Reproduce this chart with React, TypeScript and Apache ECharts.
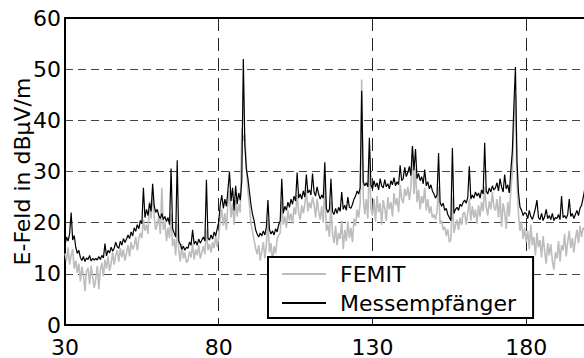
import React, { useEffect, useRef } from "react";
import * as echarts from "echarts";

// Frequency grid (MHz): values sampled every 0.5 MHz starting at 30 MHz
const FREQ_START = 30;
const FREQ_STEP = 0.5;
const X_TICK_LABELS = [30, 80, 130, 180];
const Y_TICKS = [0, 10, 20, 30, 40, 50, 60];
const SERIES_NAMES = ["FEMIT", "Messempfänger"];

// FEMIT (grey) field strength in dBµV/m
const femit = [
  // 30 – 39.5
  14.0, 12.5, 15.2, 11.8, 13.6, 14.8, 11.0, 12.6, 10.2, 12.0, 8.5, 11.4, 9.8, 6.6, 10.5, 11.2, 8.0, 11.6, 9.4, 7.2,
  // 40 – 49.5
  9.0, 11.5, 7.0, 10.8, 12.2, 9.5, 12.8, 11.0, 13.4, 10.6, 12.0, 14.2, 11.8, 13.6, 14.6, 12.4, 15.0, 13.2, 14.8, 12.6,
  // 50 – 59.5
  14.0, 15.6, 13.4, 16.2, 14.8, 15.4, 17.2, 14.6, 16.8, 18.0, 17.0, 20.6, 18.4, 19.6, 17.8, 24.2, 20.8, 26.0, 21.2, 18.6,
  // 60 – 69.5
  19.6, 21.4, 17.8, 26.8, 18.6, 20.2, 16.4, 19.0, 17.0, 21.8, 15.4, 16.8, 13.6, 19.8, 14.6, 12.4, 15.8, 13.0, 14.2, 12.2,
  // 70 – 79.5
  12.6, 14.4, 13.2, 15.8, 12.8, 14.8, 13.6, 15.6, 13.0, 14.2, 15.4, 13.8, 18.6, 14.6, 15.8, 14.2, 16.2, 15.0, 17.4, 15.2,
  // 80 – 89.5
  17.2, 20.8, 22.6, 19.4, 21.8, 18.6, 24.0, 26.2, 21.0, 23.8, 19.6, 24.4, 21.2, 23.6, 22.0, 38.4, 36.0, 37.2, 31.0, 26.0,
  // 90 – 99.5
  23.4, 19.8, 18.2, 16.6, 15.0, 13.8, 15.6, 12.6, 14.4, 16.2, 13.0, 15.8, 20.6, 14.2, 16.0, 12.2, 15.4, 14.0, 16.8, 17.6,
  // 100 – 109.5
  18.0, 24.2, 19.6, 21.2, 19.0, 22.4, 20.4, 21.8, 19.8, 23.0, 21.6, 25.4, 22.0, 20.6, 23.4, 21.8, 23.6, 26.4, 22.2, 24.0,
  // 110 – 119.5
  22.8, 25.0, 23.6, 21.0, 24.6, 22.2, 20.6, 23.2, 20.0, 28.4, 18.4, 19.6, 17.2, 24.2, 17.8, 16.0, 19.4, 15.6, 18.0, 16.8,
  // 120 – 129.5
  20.4, 14.8, 18.6, 16.4, 20.2, 17.0, 19.0, 16.2, 20.8, 19.4, 22.6, 21.0, 23.8, 48.0, 25.0, 21.6, 24.6, 20.8, 33.0, 22.8,
  // 130 – 139.5
  21.4, 24.6, 20.2, 25.2, 22.0, 23.8, 19.6, 24.4, 22.8, 20.4, 25.0, 22.6, 24.0, 21.2, 25.8, 23.4, 24.8, 22.0, 27.4, 24.6,
  // 140 – 149.5
  23.8, 26.6, 25.2, 27.0, 24.4, 26.8, 34.8, 25.6, 30.6, 24.0, 26.4, 22.6, 25.2, 23.8, 26.8, 22.4, 24.6, 21.8, 23.2, 21.0,
  // 150 – 159.5
  21.6, 20.6, 22.2, 27.0, 19.8, 20.4, 18.6, 19.2, 17.4, 18.8, 16.2, 16.6, 25.0, 18.0, 19.4, 20.6, 18.6, 21.0, 19.6, 21.8,
  // 160 – 169.5
  22.0, 19.6, 21.8, 24.6, 20.4, 23.2, 21.0, 22.6, 19.8, 23.4, 21.2, 24.0, 22.2, 27.0, 23.0, 21.4, 24.2, 22.6, 26.0, 23.0,
  // 170 – 179.5
  22.4, 24.6, 21.0, 25.2, 19.2, 23.8, 22.0, 18.8, 24.0, 21.2, 26.4, 30.0, 40.0, 45.0, 28.0, 21.6, 18.4, 20.2, 16.8, 19.0,
  // 180 – 189.5
  16.2, 18.4, 14.8, 19.6, 15.6, 17.2, 13.6, 18.0, 15.2, 16.6, 13.2, 17.4, 14.4, 12.0, 16.0, 13.6, 15.8, 12.6, 10.8, 14.2,
  // 190 – 199
  13.0, 16.4, 12.4, 15.6, 14.6, 17.8, 13.4, 16.2, 18.4, 15.0, 17.0, 14.2, 16.8, 18.6, 16.0, 19.4, 17.2, 19.0, 18.6,
];

// Messempfänger (black) field strength in dBµV/m
const messempfaenger = [
  // 30 – 39.5
  15.5, 17.2, 16.4, 17.8, 22.0, 16.6, 17.5, 15.2, 14.0, 14.6, 13.2, 12.6, 13.4, 12.4, 13.1, 12.8, 13.6, 12.5, 13.0, 12.7,
  // 40 – 49.5
  13.0, 12.7, 13.4, 12.8, 13.6, 13.1, 15.9, 13.5, 14.6, 14.1, 15.2, 14.4, 15.0, 16.2, 15.3, 15.0, 16.4, 15.6, 16.9, 16.1,
  // 50 – 59.5
  16.8, 17.6, 16.9, 18.2, 17.4, 19.0, 18.3, 19.6, 18.8, 20.4, 19.8, 26.8, 21.0, 22.6, 21.4, 23.8, 22.2, 27.6, 23.4, 22.0,
  // 60 – 69.5
  22.6, 21.4, 20.8, 21.8, 20.6, 21.2, 20.2, 21.0, 19.6, 30.6, 18.8, 18.0, 17.2, 32.2, 16.4, 15.8, 14.8, 15.4, 14.6, 15.2,
  // 70 – 79.5
  15.0, 16.2, 15.6, 18.6, 15.8, 16.4, 15.6, 16.8, 16.0, 16.6, 17.2, 16.4, 28.4, 17.0, 16.6, 17.6, 16.8, 18.2, 17.4, 18.8,
  // 80 – 89.5
  20.2, 23.6, 25.4, 22.8, 24.6, 23.2, 26.4, 30.0, 24.2, 26.8, 22.4, 27.2, 23.6, 25.8, 24.4, 28.2, 52.0, 35.0, 30.4, 28.6,
  // 90 – 99.5
  26.0, 23.4, 21.6, 20.4, 18.6, 17.8, 17.2, 18.0, 17.4, 18.4, 17.6, 19.2, 24.4, 18.6, 17.8, 18.4, 17.6, 18.8, 18.2, 19.6,
  // 100 – 109.5
  20.4, 28.6, 21.8, 23.2, 22.4, 24.0, 23.0, 24.6, 23.6, 25.2, 24.2, 29.8, 24.8, 25.6, 24.6, 26.2, 25.0, 29.4, 25.8, 26.4,
  // 110 – 119.5
  25.4, 29.6, 26.0, 25.2, 27.0, 25.6, 24.6, 25.4, 24.8, 31.8, 22.8, 22.0, 22.6, 28.6, 22.2, 21.6, 22.8, 21.8, 23.0, 22.2,
  // 120 – 129.5
  26.0, 22.6, 23.4, 22.4, 25.0, 23.0, 22.8, 23.6, 24.6, 25.2, 26.2, 25.6, 26.8, 45.8, 28.0, 27.2, 27.8, 27.0, 36.6, 27.4,
  // 130 – 139.5
  26.6, 28.2, 27.0, 27.8, 26.4, 28.6, 27.2, 26.8, 28.4, 27.0, 27.6, 26.6, 28.2, 27.4, 28.8, 27.2, 28.0, 27.4, 31.2, 28.2,
  // 140 – 149.5
  28.6, 30.8, 29.0, 29.8, 31.0, 29.2, 35.0, 30.2, 34.4, 28.6, 29.6, 28.2, 29.0, 27.6, 30.4, 27.2, 28.0, 26.6, 27.4, 26.2,
  // 150 – 159.5
  25.6, 24.8, 25.4, 33.6, 24.0, 23.2, 23.8, 22.4, 22.8, 21.6, 21.0, 20.4, 34.6, 21.8, 22.6, 23.0, 22.4, 23.6, 23.2, 24.0,
  // 160 – 169.5
  24.4, 23.8, 25.0, 31.0, 24.6, 25.4, 24.8, 26.0, 25.2, 25.8, 24.8, 26.4, 25.6, 35.6, 26.2, 25.6, 26.8, 26.0, 27.2, 26.4,
  // 170 – 179.5
  26.8, 27.8, 26.2, 28.6, 27.0, 26.0, 29.4, 26.6, 27.4, 25.8, 30.2, 34.0, 43.0, 50.4, 32.0, 25.8, 23.0, 22.4, 21.4, 22.0,
  // 180 – 189.5
  21.8, 20.8, 22.4, 21.2, 20.6, 21.6, 22.8, 24.4, 21.0, 20.6, 21.8, 20.4, 21.2, 22.6, 20.8, 21.4, 20.6, 21.8, 20.4, 21.0,
  // 190 – 199
  20.8, 21.6, 20.6, 25.2, 21.0, 21.4, 20.8, 21.6, 24.6, 21.2, 21.8, 20.8, 21.6, 22.4, 21.4, 22.8, 23.4, 24.8, 26.4,
];

const X_MIN = 30;
const X_MAX = 198.8;
const X_INTERVAL = 50;

const FONT = "DejaVu Sans";

export default function App() {
  const ref = useRef<HTMLDivElement>(null);

  useEffect(() => {
    if (!ref.current) return;
    const chart = echarts.init(ref.current, null, { renderer: "svg" });
    // axis works in offset units (f - 30) so ticks start at 30 MHz
    const toPairs = (arr: number[]) =>
      arr.map((v, i) => [FREQ_START + i * FREQ_STEP - X_MIN, v]);

    const labelSet = new Set(X_TICK_LABELS.map((v) => v - X_MIN));

    chart.setOption({
      animation: false,
      backgroundColor: "#ffffff",
      grid: { left: 65, right: 0, top: 18, bottom: 33 },
      legend: {
        data: SERIES_NAMES,
        orient: "vertical",
        left: 268,
        top: 257,
        icon: "rect",
        itemWidth: 44,
        itemHeight: 2,
        itemGap: 7,
        padding: [6, 17, 4, 14],
        backgroundColor: "#ffffff",
        borderColor: "#000000",
        borderWidth: 2,
        borderRadius: 0,
        textStyle: {
          fontFamily: FONT,
          fontSize: 22,
          lineHeight: 22,
          color: "#000000",
          padding: [0, 0, 0, 9],
        },
      },
      xAxis: [
        {
          type: "value",
          min: 0,
          max: X_MAX - X_MIN,
          interval: X_INTERVAL,
          axisLine: { show: true, lineStyle: { color: "#000", width: 2 } },
          axisTick: { show: false },
          axisLabel: {
            fontFamily: FONT,
            fontSize: 22,
            lineHeight: 20,
            color: "#000",
            margin: 12,
            showMaxLabel: false,
            formatter: (v: number) =>
              labelSet.has(Math.round(v * 1000) / 1000) ? String(v + X_MIN) : "",
          },
          splitLine: {
            show: true,
            lineStyle: { color: "#222", width: 1, type: [13, 7] },
          },
        },
        {
          type: "value",
          position: "top",
          min: 0,
          max: X_MAX - X_MIN,
          axisLine: { show: true, lineStyle: { color: "#000", width: 2 } },
          axisTick: { show: false },
          axisLabel: { show: false },
          splitLine: { show: false },
        },
      ],
      yAxis: {
        type: "value",
        min: Y_TICKS[0],
        max: Y_TICKS[Y_TICKS.length - 1],
        interval: 10,
        name: "E-Feld in dBµV/m",
        nameLocation: "middle",
        nameRotate: 90,
        nameGap: 32,
        nameMoveOverlap: false,
        nameTextStyle: { fontFamily: FONT, fontSize: 22, color: "#000" },
        axisLine: { show: true, lineStyle: { color: "#000", width: 2 } },
        axisTick: { show: false },
        axisLabel: { fontFamily: FONT, fontSize: 22, lineHeight: 18, color: "#000", margin: 4 },
        splitLine: {
          show: true,
          lineStyle: { color: "#444", width: 1, type: [8, 5] },
        },
      },
      series: [
        {
          name: SERIES_NAMES[0],
          type: "line",
          xAxisIndex: 0,
          data: toPairs(femit),
          symbol: "none",
          lineStyle: { color: "#bdbdbd", width: 1.6 },
          itemStyle: { color: "#bdbdbd" },
          z: 2,
        },
        {
          name: SERIES_NAMES[1],
          type: "line",
          xAxisIndex: 0,
          data: toPairs(messempfaenger),
          symbol: "none",
          lineStyle: { color: "#000000", width: 1.2 },
          itemStyle: { color: "#000000" },
          z: 3,
        },
      ],
    });
    return () => chart.dispose();
  }, []);

  return <div ref={ref} style={{ width: 584, height: 358, position: "absolute", left: 0, top: 0 }} />;
}
